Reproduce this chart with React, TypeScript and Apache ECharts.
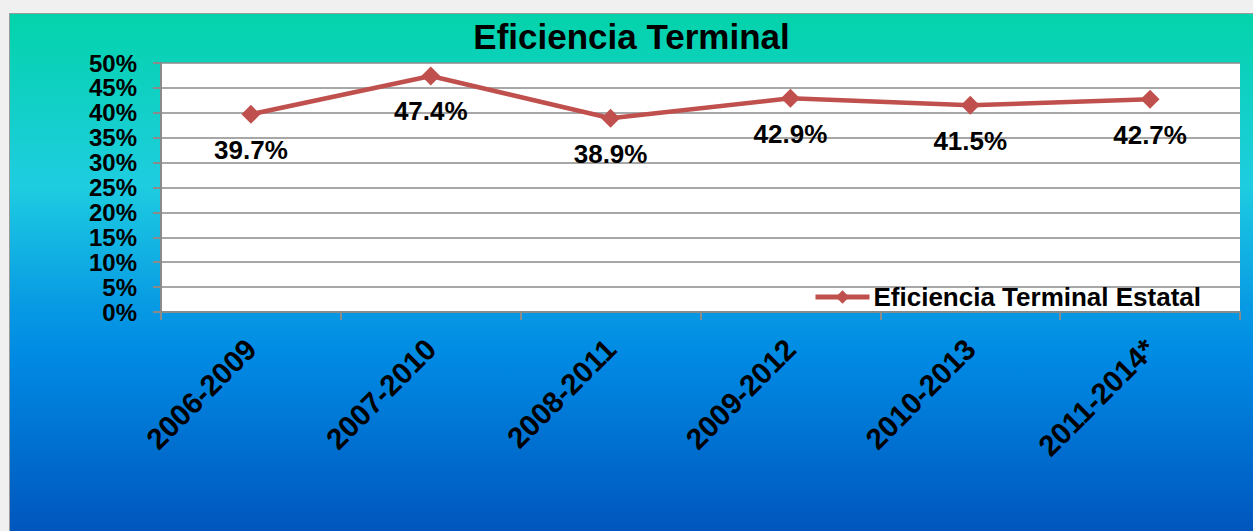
import React, { useEffect, useRef } from "react";
import * as echarts from "echarts";

const categories = ["2006-2009", "2007-2010", "2008-2011", "2009-2012", "2010-2013", "2011-2014*"];
const values = [39.7, 47.4, 38.9, 42.9, 41.5, 42.7];
const seriesName = "Eficiencia Terminal Estatal";
const titleText = "Eficiencia Terminal";

const FONT = "Arial, 'Liberation Sans', sans-serif";

export default function App() {
  const ref = useRef<HTMLDivElement>(null);
  useEffect(() => {
    if (!ref.current) return;
    const chart = echarts.init(ref.current, undefined, { renderer: "svg" });
    chart.setOption({
      animation: false,
      backgroundColor: new echarts.graphic.LinearGradient(0, 0, 0, 1, [
        { offset: 0, color: "#03d3aa" },
        { offset: 0.33, color: "#1ecde0" },
        { offset: 0.57, color: "#0799e4" },
        { offset: 0.67, color: "#0089e3" },
        { offset: 1, color: "#0056bd" },
      ]),
      title: {
        text: titleText,
        left: "center",
        top: 5,
        padding: 0,
        textStyle: { fontFamily: FONT, fontWeight: "bold", fontSize: 35, color: "#000" },
      },
      legend: {
        data: [seriesName],
        left: 803,
        top: 270,
        padding: 0,
        itemWidth: 54,
        itemHeight: 17,
        itemGap: 4,
        lineStyle: { width: 5 },
        textStyle: { fontFamily: FONT, fontWeight: "bold", fontSize: 26, color: "#000", padding: [0, 0, 0, -1] },
      },
      grid: {
        left: 151,
        top: 49,
        right: 13,
        bottom: 219,
        show: true,
        backgroundColor: "#ffffff",
        borderWidth: 0,
        containLabel: false,
      },
      xAxis: {
        type: "category",
        data: categories,
        boundaryGap: true,
        axisLine: { show: true, lineStyle: { color: "#8a8a8a", width: 2 } },
        axisTick: { show: true, length: 8, lineStyle: { color: "#8a8a8a", width: 2 } },
        axisLabel: {
          rotate: 45,
          margin: 32,
          interval: 0,
          fontFamily: FONT,
          fontWeight: "bold",
          fontSize: 29.5,
          color: "#000",
        },
      },
      yAxis: {
        type: "value",
        min: 0,
        max: 50,
        interval: 5,
        axisLine: { show: true, lineStyle: { color: "#8a8a8a", width: 2 } },
        axisTick: { show: true, length: 8, lineStyle: { color: "#8a8a8a", width: 2 } },
        splitLine: { show: true, lineStyle: { color: "#8a8a8a", width: 1.5 } },
        axisLabel: {
          margin: 24,
          showMinLabel: true,
          showMaxLabel: true,
          formatter: "{value}%",
          fontFamily: FONT,
          fontWeight: "bold",
          fontSize: 24,
          lineHeight: 20,
          color: "#000",
        },
      },
      series: [
        {
          name: seriesName,
          type: "line",
          data: values,
          symbol: "diamond",
          symbolSize: 19,
          itemStyle: { color: "#c0504d" },
          lineStyle: { color: "#c0504d", width: 4.5 },
          label: {
            show: true,
            position: "bottom",
            distance: 13,
            formatter: (p: any) => p.value.toFixed(1) + "%",
            fontFamily: FONT,
            fontWeight: "bold",
            fontSize: 26,
            color: "#000",
          },
        },
      ],
    });
    return () => chart.dispose();
  }, []);
  return (
    <div style={{ position: "absolute", left: 0, top: 0, width: 1253, height: 531, background: "#f0f0f0", overflow: "hidden" }}>
      <div
        style={{
          position: "absolute",
          left: 9,
          top: 13,
          borderLeft: "1px solid #9a9a9a",
          borderTop: "1px solid #9a9a9a",
          width: 1244,
          height: 518,
          boxSizing: "border-box",
        }}
      >
        <div ref={ref} style={{ width: 1243, height: 517 }} />
      </div>
    </div>
  );
}
